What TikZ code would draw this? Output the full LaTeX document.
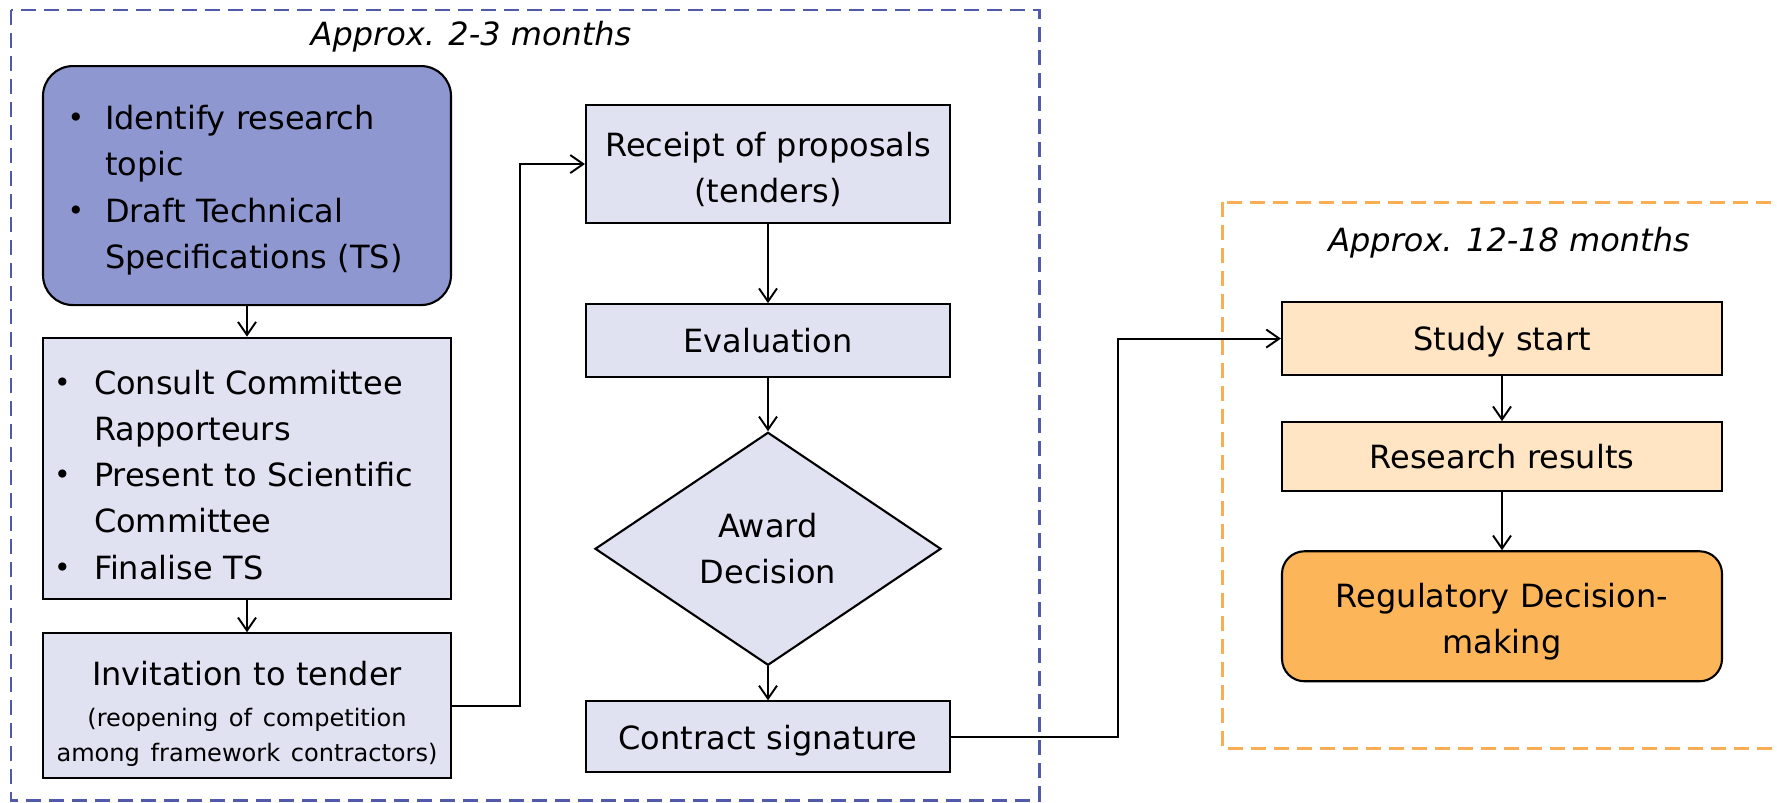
\documentclass[tikz,border=0pt]{standalone}
\usepackage{fontspec}
\setmainfont{DejaVu Sans}
\usepackage{xcolor}
\usetikzlibrary{arrows.meta,positioning,shapes.geometric}
\definecolor{PlanBlue}{HTML}{5059AA}
\definecolor{PlanLilac}{HTML}{8E97CF}
\definecolor{PlanPale}{HTML}{E0E2F2}
\definecolor{StudyOrange}{HTML}{F9AE55}
\definecolor{StudyPeach}{HTML}{FFE5C4}
\definecolor{StudyAmber}{HTML}{FDB55A}
\newcommand{\boxfont}{\fontsize{18.2pt}{26.3pt}\selectfont}
\newcommand{\notefont}{\fontsize{13.7pt}{19.9pt}\selectfont}
% bullet and hanging indent of the list boxes
\newcommand{\bulitem}[1][7.5mm]{\makebox[#1][l]{\raisebox{0.35mm}{\fontsize{16pt}{16pt}\selectfont\textbullet}}}
\newcommand{\bulcont}[1][7.5mm]{\hspace*{#1}}

\begin{document}
\begin{tikzpicture}[
    node distance=6.1mm,
    box/.style={draw, line width=1.2pt, fill=PlanPale, font=\boxfont,
      align=center, inner ysep=0pt},
    oneline/.style={text depth=0pt},
    listbox/.style={box, align=left, minimum width=81.6mm},
    midbox/.style={box, minimum width=72.8mm, text width=68.8mm, inner xsep=2mm},
    resultbox/.style={box, fill=StudyPeach, minimum width=88mm, text width=84mm,
      inner xsep=2mm},
    decision/.style={box, diamond, aspect=1.5, inner sep=0pt,
      minimum width=69.2mm, minimum height=46.6mm},
    frame/.style={line width=1.7pt, dash pattern=on 3mm off 1.6mm},
    period/.style={font=\boxfont\itshape},
    arr/.style={-{Straight Barb[length=2.6mm,width=3.6mm]}, line width=1.1pt}
  ]
    \useasboundingbox (0,0) rectangle (355.4mm,-160.4mm);

    % time frames
    \draw[frame, PlanBlue] (2.2mm,-2mm) rectangle (207.8mm,-160mm);
    \draw[frame, StudyOrange] (244.4mm,-40.4mm) rectangle (358mm,-149.6mm);
    \node[period] (shortlabel) at (94.2mm,-7.4mm) {Approx. 2-3 months};
    \node[period] (longlabel) at (301.8mm,-48.6mm) {Approx. 12-18 months};

    % preparation (text depth trimmed so the lines sit a little lower)
    \node[listbox, anchor=north, fill=PlanLilac, rounded corners=6mm,
      text width=71.8mm, inner xsep=4.9mm, minimum height=47.8mm,
      text depth=77.5pt] (topic) at (49.4mm,-13mm)
      {\bulitem Identify research\\\bulcont topic\\
       \bulitem Draft Technical\\\bulcont Specifications (TS)};
    \node[listbox, below=of topic, text width=77.2mm, inner xsep=2.2mm,
      minimum height=52.3mm, text depth=98.2pt] (consult)
      {\bulitem[8mm]Consult Committee\\\bulcont[8mm]Rapporteurs\\
       \bulitem[8mm]Present to Scientific\\\bulcont[8mm]Committee\\
       \bulitem[8mm]Finalise TS};
    \node[box, below=6.4mm of consult, minimum width=81.6mm, text width=78.4mm,
      inner xsep=1.6mm, minimum height=29mm, text depth=37.1pt] (invite)
      {Invitation to tender\par\vspace{1.3mm}\notefont
       (reopening of competition\\among framework contractors)\par};

    % tendering
    \node[midbox, anchor=north, minimum height=23.6mm, text depth=22.3pt] (receipt)
      at (153.6mm,-20.8mm) {Receipt of proposals\\(tenders)};
    \node[midbox, oneline, below=15.8mm of receipt, minimum height=14.6mm] (eval)
      {Evaluation};
    \node[decision, below=10.6mm of eval] (award) {Award\\Decision};
    \node[midbox, oneline, below=6.8mm of award, minimum height=14.2mm] (contract)
      {Contract signature};

    % study
    \node[resultbox, oneline, anchor=north, minimum height=14.6mm] (study)
      at (300.4mm,-60.2mm) {Study start};
    \node[resultbox, oneline, below=9mm of study, minimum height=13.8mm] (results)
      {Research results};
    \node[resultbox, below=11.6mm of results, fill=StudyAmber, rounded corners=4.5mm,
      minimum height=26mm, text depth=24.2pt] (regulatory)
      {Regulatory Decision-\\making};

    \draw[arr] (topic) -- (consult);
    \draw[arr] (consult) -- (invite);
    \draw[arr] (invite.east) -- ++(13.6mm,0) |- (receipt.west);
    \draw[arr] (receipt) -- (eval);
    \draw[arr] (eval) -- (award);
    \draw[arr] (award) -- (contract);
    \draw[arr] (contract.east) -- ++(33.4mm,0) |- (study.west);
    \draw[arr] (study) -- (results);
    \draw[arr] (results) -- (regulatory);
  \end{tikzpicture}
\end{document}
